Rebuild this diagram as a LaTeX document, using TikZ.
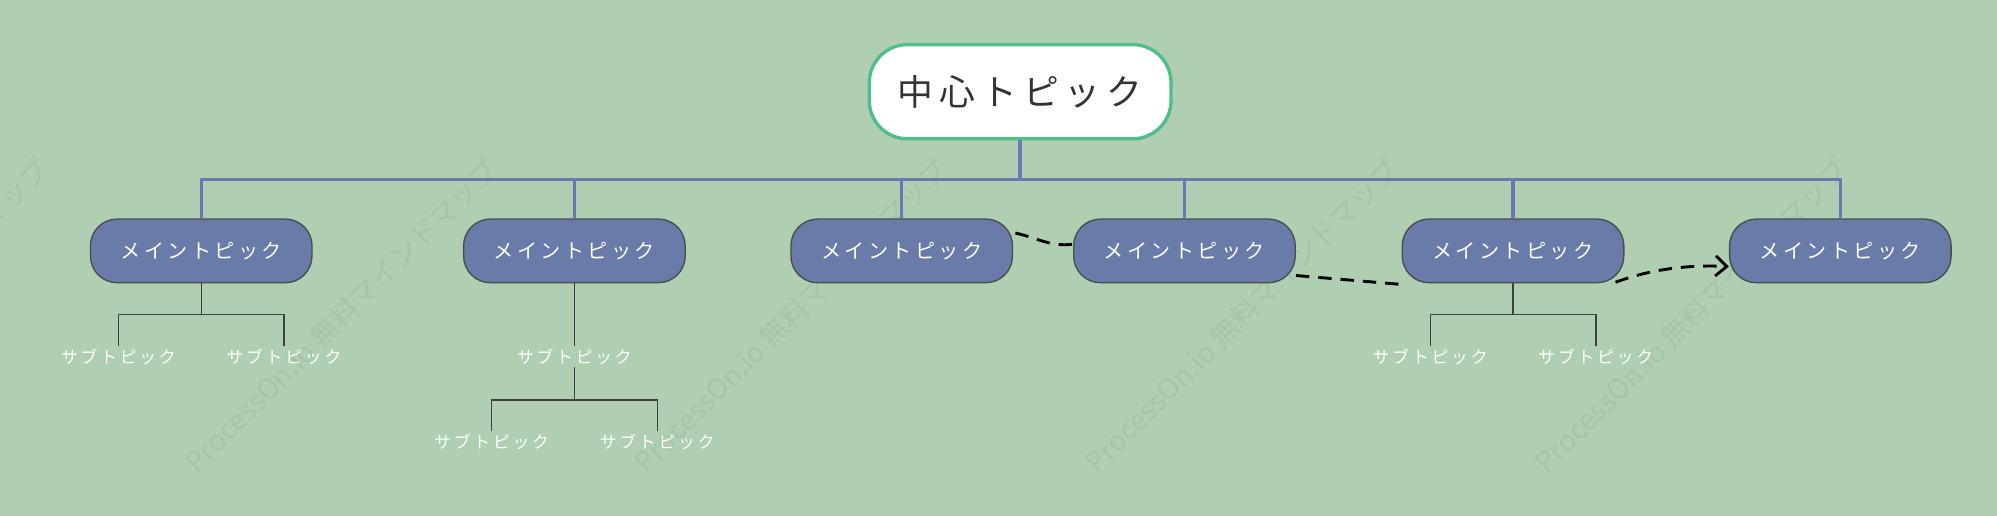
\documentclass[tikz,border=0pt]{standalone}
\usepackage{fontspec}
\setmainfont{Noto Sans CJK JP}
\usetikzlibrary{arrows.meta}
\definecolor{bg}{HTML}{B0CFB2}
\definecolor{mainc}{HTML}{6A7AA9}
\definecolor{busc}{HTML}{6B78B2}
\definecolor{cgreen}{HTML}{4FBF8A}
\definecolor{wm}{HTML}{A5C5A8}
\begin{document}
\begin{tikzpicture}[x=0.02cm,y=-0.02cm,
  center/.style={draw=cgreen,line width=1.5pt,fill=white,rounded corners=0.6cm,minimum width=4.74cm,minimum height=1.48cm,font=\fontsize{16}{18}\selectfont,text=black!80},
  maintopic/.style={draw=black!70,line width=0.6pt,fill=mainc,rounded corners=0.42cm,minimum width=3.48cm,minimum height=1cm,text=white,font=\fontsize{9}{11}\selectfont},
  sub/.style={text=white,font=\fontsize{7.5}{9}\selectfont,inner sep=1pt},
  bus/.style={draw=busc,line width=1.5pt},
  subline/.style={draw=black!75,line width=0.6pt},
  dashc/.style={draw=black,line width=1.3pt,dash pattern=on 6pt off 4pt},
  wmk/.style={text=wm,rotate=45,font=\fontsize{12.5}{14}\selectfont}]
\fill[bg] (0,0) rectangle (1568,405);
\useasboundingbox (0,0) rectangle (1568,405);
\foreach \cx in {-85,268,621,975,1328} \node[wmk] at (\cx,248) {ProcessOn.io 無料マインドマップ};
\node[center] (c) at (801,72) {中\,心\,ト\,ピ\,ッ\,ク};
\foreach \i/\x in {1/158,2/451,3/708,4/930,5/1188,6/1445}
  \node[maintopic] (m\i) at (\x,197) {メ\,イ\,ン\,ト\,ピ\,ッ\,ク};
\coordinate (b) at (801,141);
\draw[bus] (c.south) -- (b);
\draw[bus] (m1.north) |- (m6.north |- b) -- (m6.north);
\foreach \i in {2,3,4,5} \draw[bus] (m\i.north) -- (m\i.north |- b);
% subtopics
\node[sub] (s1a) at (93,280) {サ\,ブ\,ト\,ピ\,ッ\,ク};
\node[sub] (s1b) at (223,280) {サ\,ブ\,ト\,ピ\,ッ\,ク};
\node[sub] (s2) at (451,280) {サ\,ブ\,ト\,ピ\,ッ\,ク};
\node[sub] (s2a) at (386,347) {サ\,ブ\,ト\,ピ\,ッ\,ク};
\node[sub] (s2b) at (516,347) {サ\,ブ\,ト\,ピ\,ッ\,ク};
\node[sub] (s5a) at (1123,280) {サ\,ブ\,ト\,ピ\,ッ\,ク};
\node[sub] (s5b) at (1253,280) {サ\,ブ\,ト\,ピ\,ッ\,ク};
\draw[subline] (m1.south) -- (158,247) coordinate (j1);
\draw[subline] (s1a.north) |- (j1) -| (s1b.north);
\draw[subline] (m2.south) -- (s2.north);
\draw[subline] (s2.south) -- (451,314) coordinate (j2);
\draw[subline] (s2a.north) |- (j2) -| (s2b.north);
\draw[subline] (m5.south) -- (1188,247) coordinate (j5);
\draw[subline] (s5a.north) |- (j5) -| (s5b.north);
% dashed connectors
\draw[dashc] ([xshift=1pt,yshift=8pt]m3.east) .. controls (815,187) and (825,194) .. ([yshift=3pt]m4.west);
\draw[dashc] ([yshift=-11pt]m4.east) -- ([yshift=-15pt]m5.west);
\draw[dashc,-{Straight Barb[length=5pt,width=9pt]}] ([xshift=-4pt,yshift=-14pt]m5.east) .. controls (1300,210) and (1330,208) .. ([yshift=-7pt]m6.west);
\end{tikzpicture}
\end{document}
